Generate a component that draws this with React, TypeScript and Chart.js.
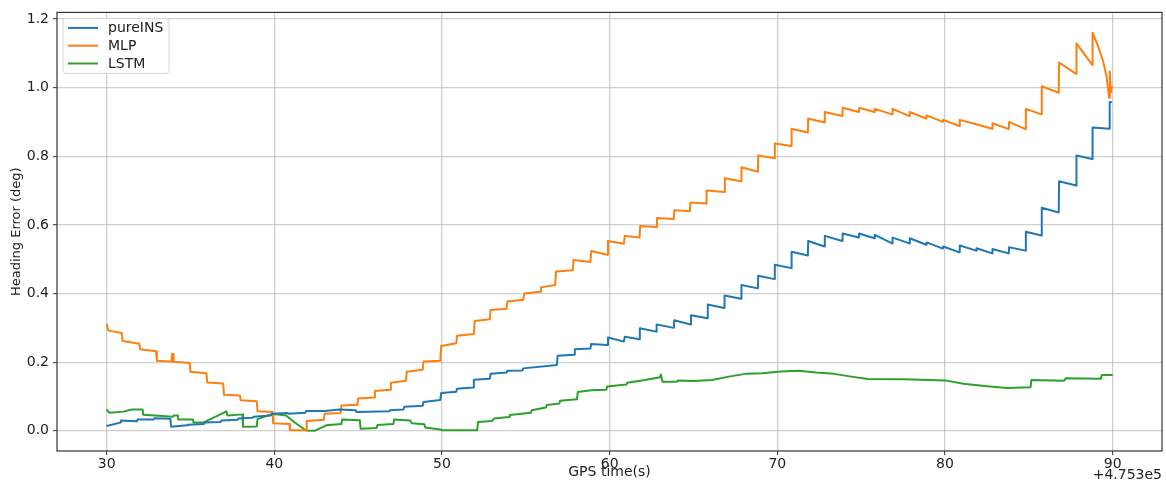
import React, { useEffect, useRef } from "react";
import { Chart, registerables } from "chart.js";

Chart.register(...registerables);

// ---- Data (GPS time offset from 4.753e5 s, heading error in deg) ----
const xTickValues = [30, 40, 50, 60, 70, 80, 90];
const yTickValues = [0, 0.2, 0.4, 0.6, 0.8, 1.0, 1.2];
const seriesLabels = ["pureINS", "MLP", "LSTM"];
const seriesColors = ["#1f77b4", "#ff7f0e", "#2ca02c"];

const pureTimes = [
  30.0, 30.8, 30.85, 31.8, 31.85, 32.8, 32.85, 33.8, 33.85, 34.8, 34.85, 35.8, 35.85, 36.8, 36.85, 37.8, 37.85,
  38.7, 38.75, 39.8, 39.85, 40.8, 40.85, 41.85, 41.9, 43.0, 43.9, 44.85, 44.9, 46.85, 46.9, 47.7, 47.75, 48.85,
  48.9, 49.9, 49.95, 50.85, 50.9, 51.85, 51.9, 52.85, 52.9, 53.85, 53.9, 54.8, 54.85, 56.85, 56.9, 57.88, 57.92,
  58.85, 58.9, 59.85, 59.9, 60.85, 60.9, 61.78, 61.8, 62.78, 62.8, 63.83, 63.85, 64.83, 64.85, 65.83, 65.85,
  66.83, 66.85, 67.84, 67.86, 68.84, 68.86, 69.83, 69.85, 70.83, 70.85, 71.82, 71.84, 72.81, 72.83, 73.87, 73.89,
  74.86, 74.88, 75.79, 75.81, 76.85, 76.87, 77.88, 77.9, 78.88, 78.9, 79.87, 79.89, 80.86, 80.88, 81.86, 81.88,
  82.81, 82.83, 83.8, 83.82, 84.8, 84.82, 85.75, 85.77, 86.78, 86.8, 87.82, 87.84, 88.78, 88.8, 89.8, 89.82, 89.95,
];
const pureValues = [
  0.014, 0.024, 0.03, 0.028, 0.033, 0.033, 0.037, 0.035, 0.012, 0.016, 0.018, 0.02, 0.024, 0.026, 0.03, 0.032, 0.036,
  0.038, 0.041, 0.045, 0.05, 0.052, 0.05, 0.053, 0.058, 0.058, 0.062, 0.06, 0.055, 0.057, 0.06, 0.062, 0.07, 0.073,
  0.084, 0.09, 0.11, 0.114, 0.123, 0.126, 0.149, 0.152, 0.166, 0.17, 0.175, 0.176, 0.182, 0.192, 0.219, 0.222, 0.238,
  0.24, 0.253, 0.25, 0.272, 0.26, 0.274, 0.267, 0.299, 0.289, 0.31, 0.3, 0.322, 0.31, 0.337, 0.328, 0.368,
  0.358, 0.394, 0.385, 0.425, 0.415, 0.452, 0.442, 0.484, 0.474, 0.522, 0.511, 0.553, 0.537, 0.568, 0.553, 0.575,
  0.563, 0.575, 0.561, 0.571, 0.546, 0.563, 0.546, 0.561, 0.542, 0.549, 0.531, 0.537, 0.52, 0.54, 0.525, 0.532,
  0.517, 0.53, 0.517, 0.535, 0.525, 0.58, 0.569, 0.65, 0.636, 0.727, 0.715, 0.802, 0.792, 0.884, 0.88, 0.958, 0.958,
];

const mlpTimes = [
  30.0, 30.1, 30.9, 30.95, 31.95, 32.0, 32.95, 33.0, 33.88, 33.9, 33.97, 33.99, 34.95, 35.0, 35.95, 36.0, 36.95,
  37.0, 37.95, 38.0, 38.95, 39.0, 39.9, 39.93, 40.9, 40.93, 41.9, 41.93, 42.95, 43.0, 43.95, 44.0, 44.95, 45.0,
  45.95, 46.0, 46.9, 46.95, 47.85, 47.9, 48.85, 48.9, 49.9, 49.95, 50.85, 50.9, 51.9, 51.95, 52.85, 52.9, 53.85,
  53.9, 54.85, 54.9, 55.85, 55.9, 56.75, 56.8, 57.8, 57.85, 58.85, 58.9, 59.85, 59.9, 60.85, 60.9, 61.78, 61.82,
  62.78, 62.82, 63.82, 63.86, 64.78, 64.82, 65.76, 65.78, 66.85, 66.87, 67.84, 67.86, 68.84, 68.86, 69.83, 69.85,
  70.83, 70.85, 71.82, 71.84, 72.81, 72.83, 73.87, 73.89, 74.86, 74.88, 75.79, 75.81, 76.85, 76.87, 77.88, 77.9,
  78.88, 78.9, 79.87, 79.89, 80.86, 80.88, 81.86, 81.88, 82.81, 82.83, 83.8, 83.82, 84.8, 84.82, 85.75, 85.77,
  86.78, 86.8, 87.82, 87.84, 88.78, 88.8, 89.13, 89.43, 89.63, 89.79, 89.83, 89.89, 89.95,
];
const mlpValues = [
  0.312, 0.292, 0.285, 0.262, 0.254, 0.238, 0.232, 0.204, 0.202, 0.224, 0.224, 0.201, 0.198, 0.172, 0.168, 0.141, 0.138,
  0.105, 0.103, 0.089, 0.086, 0.057, 0.055, 0.022, 0.02, 0.002, 0.002, 0.029, 0.032, 0.05, 0.052, 0.074, 0.076, 0.094,
  0.097, 0.116, 0.12, 0.14, 0.146, 0.172, 0.178, 0.202, 0.204, 0.247, 0.255, 0.277, 0.282, 0.32, 0.325, 0.352, 0.356,
  0.377, 0.382, 0.4, 0.405, 0.418, 0.425, 0.464, 0.468, 0.498, 0.492, 0.524, 0.513, 0.553, 0.545, 0.568, 0.563, 0.597,
  0.594, 0.62, 0.617, 0.643, 0.64, 0.665, 0.662, 0.7, 0.696, 0.736, 0.727, 0.768, 0.755, 0.802, 0.794, 0.837,
  0.83, 0.88, 0.869, 0.91, 0.898, 0.929, 0.917, 0.941, 0.929, 0.941, 0.929, 0.938, 0.922, 0.938, 0.917, 0.929,
  0.91, 0.919, 0.9, 0.906, 0.888, 0.906, 0.893, 0.893, 0.88, 0.896, 0.879, 0.9, 0.879, 0.938, 0.922, 1.004,
  0.985, 1.073, 1.04, 1.129, 1.066, 1.16, 1.12, 1.076, 1.033, 0.97, 1.047, 0.985, 1.005,
];

const lstmTimes = [
  30.0, 30.15, 31.0, 31.5, 32.15, 32.18, 33.95, 34.0, 34.25, 34.27, 35.15, 35.18, 35.76, 37.15, 37.2, 38.1, 38.13,
  38.95, 39.0, 39.7, 40.0, 40.7, 41.2, 41.9, 42.4, 43.1, 44.0, 44.05, 45.1, 45.15, 46.1, 46.15, 47.1, 47.15, 48.1,
  48.2, 48.95, 49.0, 49.9, 50.0, 52.1, 52.15, 53.0, 53.1, 54.0, 54.05, 55.3, 55.35, 56.2, 56.25, 57.0, 57.05, 58.05,
  58.1, 58.9, 59.8, 59.85, 61.0, 61.05, 62.1, 63.0, 63.05, 63.15, 64.0, 64.1, 65.0, 66.1, 67.1, 68.1, 69.1, 70.2,
  71.3, 72.3, 73.4, 74.4, 75.4, 77.5, 80.0, 81.1, 82.5, 83.7, 85.1, 85.15, 87.1, 87.2, 89.3, 89.35, 90.0,
];
const lstmValues = [
  0.063, 0.053, 0.056, 0.062, 0.062, 0.047, 0.041, 0.045, 0.045, 0.033, 0.033, 0.024, 0.024, 0.057, 0.045, 0.048, 0.012,
  0.013, 0.034, 0.046, 0.049, 0.045, 0.025, 0.001, 0.0, 0.016, 0.02, 0.033, 0.031, 0.006, 0.008, 0.017, 0.02, 0.033, 0.03,
  0.022, 0.019, 0.01, 0.004, 0.002, 0.002, 0.026, 0.029, 0.036, 0.04, 0.046, 0.053, 0.06, 0.068, 0.075, 0.08, 0.088, 0.092,
  0.113, 0.118, 0.12, 0.129, 0.135, 0.14, 0.148, 0.156, 0.164, 0.143, 0.143, 0.147, 0.145, 0.148, 0.158, 0.166, 0.168, 0.173,
  0.175, 0.17, 0.166, 0.158, 0.151, 0.15, 0.147, 0.137, 0.13, 0.125, 0.127, 0.148, 0.146, 0.153, 0.152, 0.163, 0.163,
];

const xMin = 27.04;
const xMax = 92.94;
const yMin = -0.0587;
const yMax = 1.219;
const offsetText = "+4.753e5";
const xTitle = "GPS time(s)";
const yTitle = "Heading Error (deg)";

const FONT = "'DejaVu Sans', 'Liberation Sans', sans-serif";

function toPoints(ts: number[], vs: number[]) {
  return ts.map((t, i) => ({ x: t, y: vs[i] }));
}

const overlayPlugin = {
  id: "overlay",
  afterDraw(chart: any) {
    const { ctx, chartArea } = chart;
    ctx.save();
    // frame
    ctx.strokeStyle = "#333333";
    ctx.lineWidth = 1.2;
    ctx.strokeRect(chartArea.left, chartArea.top, chartArea.right - chartArea.left, chartArea.bottom - chartArea.top);
    // legend
    const lx = chartArea.left + 6;
    const ly = chartArea.top + 6;
    const lw = 106;
    const lh = 55;
    const r = 3;
    ctx.beginPath();
    ctx.moveTo(lx + r, ly);
    ctx.lineTo(lx + lw - r, ly);
    ctx.quadraticCurveTo(lx + lw, ly, lx + lw, ly + r);
    ctx.lineTo(lx + lw, ly + lh - r);
    ctx.quadraticCurveTo(lx + lw, ly + lh, lx + lw - r, ly + lh);
    ctx.lineTo(lx + r, ly + lh);
    ctx.quadraticCurveTo(lx, ly + lh, lx, ly + lh - r);
    ctx.lineTo(lx, ly + r);
    ctx.quadraticCurveTo(lx, ly, lx + r, ly);
    ctx.closePath();
    ctx.fillStyle = "rgba(255,255,255,0.85)";
    ctx.fill();
    ctx.strokeStyle = "#d6d6d6";
    ctx.lineWidth = 1;
    ctx.stroke();
    ctx.font = `14px ${FONT}`;
    ctx.textBaseline = "middle";
    ctx.textAlign = "left";
    chart.data.datasets.forEach((ds: any, i: number) => {
      const yy = ly + 9.5 + i * 17.8;
      ctx.strokeStyle = ds.borderColor;
      ctx.lineWidth = 2;
      ctx.beginPath();
      ctx.moveTo(lx + 5, yy);
      ctx.lineTo(lx + 35, yy);
      ctx.stroke();
      ctx.fillStyle = "#222222";
      ctx.fillText(ds.label, lx + 45, yy + 0.5);
    });
    // offset text
    ctx.textAlign = "right";
    ctx.fillStyle = "#222222";
    ctx.fillText(offsetText, chartArea.right, 475);
    ctx.restore();
  },
};

export default function App() {
  const canvasRef = useRef<HTMLCanvasElement | null>(null);

  useEffect(() => {
    if (!canvasRef.current) return;
    Chart.defaults.font.family = FONT;
    const chart = new Chart(canvasRef.current, {
      type: "line",
      data: {
        datasets: [
          { label: seriesLabels[0], data: toPoints(pureTimes, pureValues), borderColor: seriesColors[0] },
          { label: seriesLabels[1], data: toPoints(mlpTimes, mlpValues), borderColor: seriesColors[1] },
          { label: seriesLabels[2], data: toPoints(lstmTimes, lstmValues), borderColor: seriesColors[2] },
        ].map((d) => ({
          ...d,
          backgroundColor: d.borderColor,
          borderWidth: 2,
          pointRadius: 0,
          pointHoverRadius: 0,
          tension: 0,
          fill: false,
          borderJoinStyle: "round" as const,
        })),
      },
      options: {
        animation: false,
        responsive: true,
        maintainAspectRatio: false,
        events: [],
        layout: { padding: { top: 9, right: 4, left: 0, bottom: 0 } },
        plugins: { legend: { display: false }, tooltip: { enabled: false } },
        scales: {
          x: {
            type: "linear",
            min: xMin,
            max: xMax,
            afterBuildTicks: (scale: any) => {
              scale.ticks = xTickValues.map((v) => ({ value: v }));
            },
            afterFit: (scale: any) => {
              scale.height = 33;
            },
            ticks: {
              color: "#222222",
              font: { size: 14, family: FONT },
              padding: 1,
              maxRotation: 0,
              autoSkip: false,
              callback: (v: any) => String(v),
            },
            grid: {
              color: "rgba(176,176,176,0.6)",
              lineWidth: 1.3,
              drawTicks: true,
              tickLength: 4,
              tickColor: "#333333",
              tickWidth: 1,
            },
            border: { display: false },
            title: {
              display: true,
              text: xTitle,
              color: "#222222",
              font: { size: 14, family: FONT },
              padding: { top: 0, bottom: 3 },
            },
          },
          y: {
            type: "linear",
            min: yMin,
            max: yMax,
            afterBuildTicks: (scale: any) => {
              scale.ticks = yTickValues.map((v) => ({ value: v }));
            },
            afterFit: (scale: any) => {
              scale.width = 57;
            },
            ticks: {
              color: "#222222",
              font: { size: 14, family: FONT },
              padding: 4,
              autoSkip: false,
              callback: (v: any) => Number(v).toFixed(1),
            },
            grid: {
              color: "rgba(176,176,176,0.6)",
              lineWidth: 1.3,
              drawTicks: true,
              tickLength: 4,
              tickColor: "#333333",
              tickWidth: 1,
            },
            border: { display: false },
            title: {
              display: true,
              text: yTitle,
              color: "#222222",
              font: { size: 13, family: FONT },
              padding: { top: 9, bottom: 0 },
            },
          },
        },
      },
      plugins: [overlayPlugin],
    });
    return () => chart.destroy();
  }, []);

  return (
    <div style={{ position: "absolute", left: 0, top: 0, width: 1166, height: 484, background: "#ffffff" }}>
      <canvas ref={canvasRef} />
    </div>
  );
}
